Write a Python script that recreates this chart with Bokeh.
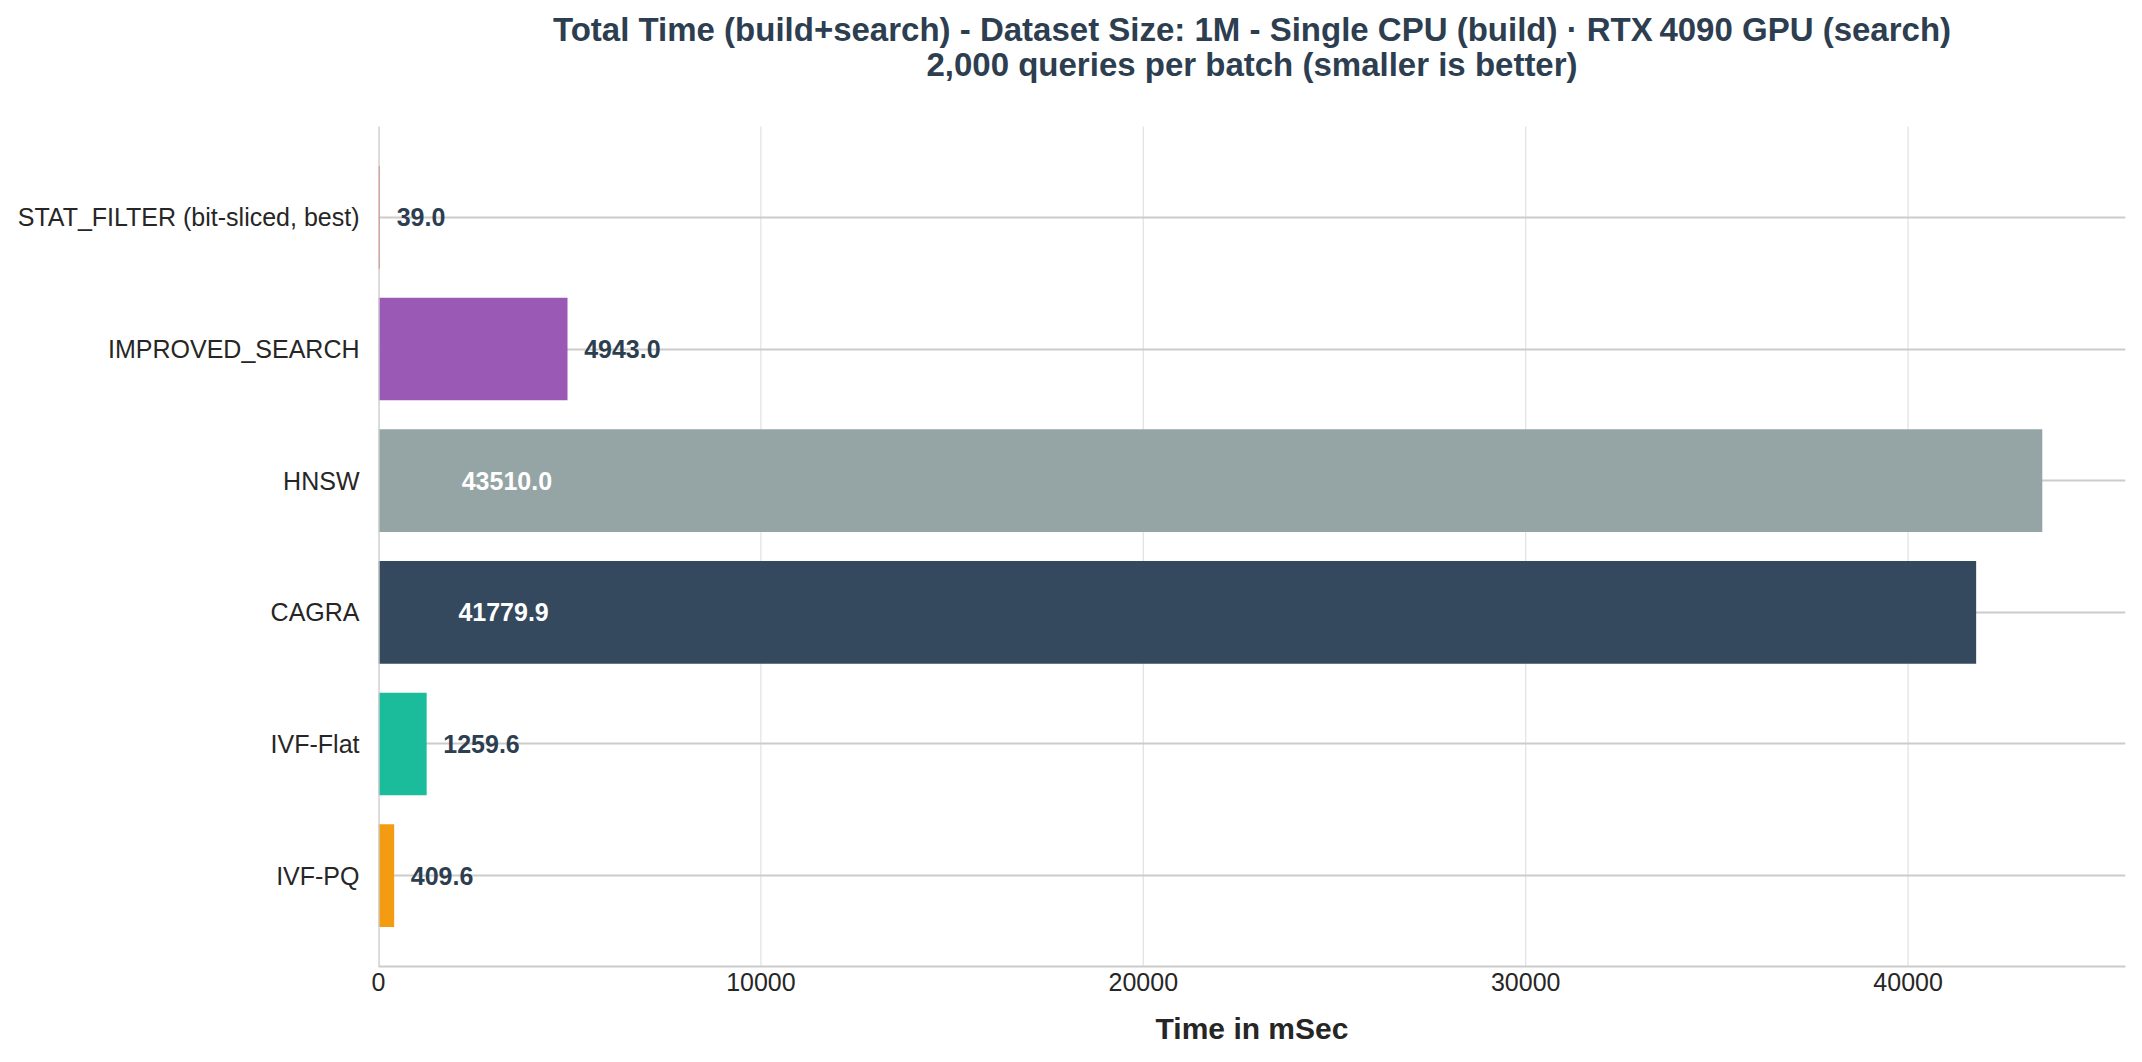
from bokeh.plotting import figure
from bokeh.models import Range1d, FixedTicker, NumeralTickFormatter, ColumnDataSource
from bokeh.core.properties import value
from bokeh.embed import file_html
from bokeh.resources import INLINE

# Data (top to bottom as in the reference)
categories = ["STAT_FILTER (bit-sliced, best)", "IMPROVED_SEARCH", "HNSW", "CAGRA", "IVF-Flat", "IVF-PQ"]
times_ms = [39.0, 4943.0, 43510.0, 41779.9, 1259.6, 409.6]
bar_colors = ["#e74c3c", "#9b59b6", "#95a5a6", "#34495e", "#1abc9c", "#f39c12"]
x_ticks = [0, 10000, 20000, 30000, 40000]

title_line1 = "Total Time (build+search) - Dataset Size: 1M - Single CPU (build) \u00b7 RTX\u202f4090 GPU (search)"
title_line2 = "2,000 queries per batch (smaller is better)"
x_label = "Time in mSec"

FONT = "Liberation Sans"
n = len(categories)
vmax = max(times_ms)
x_end = vmax * 1.05

# vertical layout: axes area (matplotlib-like limits) plus a title band above it
y_lo, y_hi = -0.69, n - 1 + 0.69
axes_px = 840          # height of the axes area in px
title_px = 126         # height of the title band in px
ppu = axes_px / (y_hi - y_lo)
y_end = y_hi + title_px / ppu

ypos = [n - 1 - i for i in range(n)]   # first category on top

p = figure(
    width=2126, height=axes_px + title_px + 88,
    y_range=Range1d(y_lo, y_end), x_range=Range1d(0, x_end),
    output_backend="svg", toolbar_location=None,
    min_border_left=378, min_border_right=1, min_border_top=0, min_border_bottom=88,
)
p.outline_line_color = None
p.background_fill_color = "white"
p.border_fill_color = "white"

# vertical grid lines limited to the axes area
p.xgrid.visible = False
vg = ColumnDataSource(dict(x=x_ticks, y0=[y_lo] * len(x_ticks), y1=[y_hi] * len(x_ticks)))
p.segment(x0="x", x1="x", y0="y0", y1="y1", source=vg, line_color="#e3e3e3", line_width=1.3, level="underlay")

# horizontal grid at categories
p.ygrid.grid_line_color = "#cccccc"
p.ygrid.grid_line_width = 2
p.ygrid.bounds = (y_lo, y_hi)

src = ColumnDataSource(dict(y=ypos, t=times_ms, color=bar_colors))
p.hbar(y="y", left=0, right="t", height=0.78, color="color", line_color=None, source=src)

# left spine
p.segment(x0=[0], x1=[0], y0=[y_lo], y1=[y_hi], line_color="#cccccc", line_width=2.4)

# value labels
label_x = []
label_col = []
for v in times_ms:
    if v > 0.3 * vmax:
        label_x.append(v * 0.05)
        label_col.append("white")
    else:
        label_x.append(v + 0.01 * vmax)
        label_col.append("#2c3e50")
lsrc = ColumnDataSource(dict(y=ypos, x=label_x, txt=["%.1f" % v for v in times_ms], col=label_col))
p.text(x="x", y="y", text="txt", text_color="col", source=lsrc,
       text_font=value(FONT), text_font_size="25px", text_font_style="bold",
       text_align="left", text_baseline="middle")

# two-line centred title in the band above the axes
tsrc = ColumnDataSource(dict(x=[x_end / 2, x_end / 2],
                             y=[y_end - 29 / ppu, y_end - 64 / ppu],
                             txt=[title_line1, title_line2]))
p.text(x="x", y="y", text="txt", source=tsrc, text_align="center", text_baseline="alphabetic",
       text_font=value(FONT), text_font_size="33px", text_font_style="bold", text_color="#2c3e50")

# axes
p.yaxis.ticker = FixedTicker(ticks=ypos)
p.yaxis.major_label_overrides = {yy: c for yy, c in zip(ypos, categories)}
p.yaxis.axis_line_color = None
p.xaxis.ticker = FixedTicker(ticks=x_ticks)
p.xaxis.formatter = NumeralTickFormatter(format="0")
p.xaxis.axis_line_color = "#cccccc"
p.xaxis.axis_line_width = 2
for ax in (p.xaxis[0], p.yaxis[0]):
    ax.major_tick_line_color = None
    ax.minor_tick_line_color = None
    ax.major_tick_out = 0
    ax.major_tick_in = 0
    ax.major_label_text_font = FONT
    ax.major_label_text_font_size = "25px"
    ax.major_label_text_color = "#262626"
p.yaxis.major_label_standoff = 19
p.xaxis.major_label_standoff = 6
p.xaxis.axis_label = x_label
p.xaxis.axis_label_text_font = FONT
p.xaxis.axis_label_text_font_size = "30px"
p.xaxis.axis_label_text_font_style = "bold"
p.xaxis.axis_label_text_color = "#262626"
p.xaxis.axis_label_standoff = 18

open("out.html", "w").write(file_html(p, INLINE))
